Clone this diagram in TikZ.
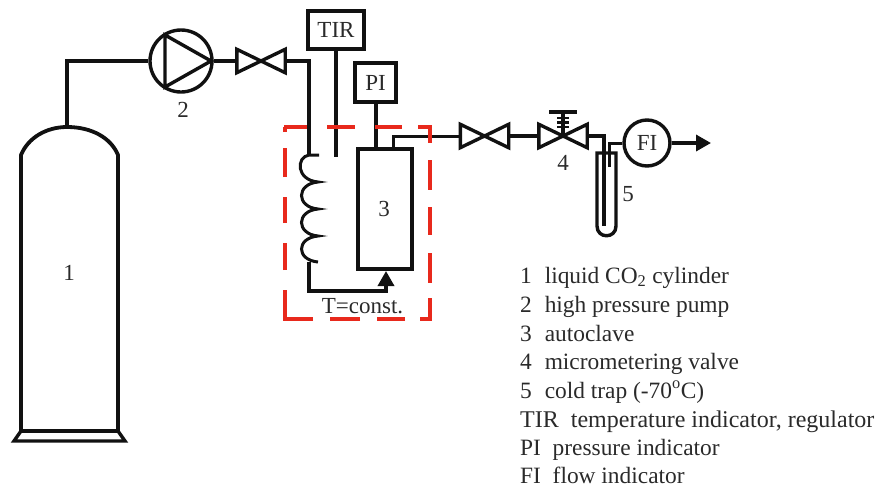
\documentclass[tikz,border=0pt]{standalone}
\usepackage{fontspec}
\setmainfont{Liberation Serif}
\usetikzlibrary{arrows.meta}
\definecolor{ink}{HTML}{111111}
\definecolor{txt}{HTML}{2A2A2A}
\definecolor{dashred}{HTML}{E8291C}
\tikzset{
  pipe/.style={draw=ink,line width=3.4pt,line join=miter},
  thin pipe/.style={draw=ink,line width=3pt},
  instr/.style={draw=ink,line width=3.4pt,fill=white,inner sep=0pt,text=txt,font=\fontsize{23}{23}\selectfont},
  valvenode/.style={minimum width=48pt,minimum height=23pt,inner sep=0pt},
  numlabel/.style={text=txt,font=\fontsize{23}{23}\selectfont,inner sep=0pt},
  legend/.style={anchor=base west,text=txt,font=\fontsize{23.4}{23}\selectfont,inner sep=0pt},
  headtip/.style={-{Triangle[length=15pt,width=16pt,fill=ink]}}
}
\newcommand{\drawvalve}[2]{%
  \node[valvenode] (#1) at (#2) {};
  \draw[pipe] (#1.north west)--(#1.south east)--(#1.north east)--(#1.south west)--cycle;}
\begin{document}
\begin{tikzpicture}[x=1pt,y=-1pt]
\useasboundingbox (0,0) rectangle (878,488);
% cylinder
\coordinate (cyltop) at (67,127);
\coordinate (pipecorner) at (67,61);
\draw[pipe,line width=3.8pt] (21,431) -- (21,155) .. controls (28,138) and (46,127) .. (cyltop)
   .. controls (92,127) and (111,138) .. (118,155) -- (118,431) -- cycle;
\draw[pipe] (21,431) -- (14,441) -- (125,441) -- (118,431);
\node[numlabel] (n1) at (69,273) {1};
% pump
\node[circle,draw=ink,line width=3.4pt,minimum size=62pt,inner sep=0pt] (pump) at (181,61) {};
\draw[pipe] (165,35) -- (165,87) -- (211,61) -- cycle;
\node[numlabel] (n2) at (183,110) {2};
\draw[pipe] (cyltop) -- (pipecorner) -- (pump.west);
% valve 1
\drawvalve{v1}{261,61}
\draw[pipe] (pump.east) -- (v1.west);
% coil
\coordinate (coiltop) at (309,155);
\coordinate (coilbot) at (309,262);
\draw[pipe] (v1.east) -- (309,61) -- (coiltop);
\draw[pipe,line width=3pt] (319,155) -- (309,155) .. controls (296,157) and (296,180) .. (318,182)
  .. controls (296,184) and (296,207) .. (318,209)
  .. controls (296,211) and (296,234) .. (318,236)
  .. controls (296,238) and (296,260) .. (318,262);
% autoclave
\node[draw=ink,line width=3.4pt,minimum width=54pt,minimum height=120pt,inner sep=0pt] (auto) at (385,209) {};
\node[numlabel] (n3) at (384,209) {3};
\draw[pipe] (coilbot) -- (309,291) -- (386,291);
\draw[pipe,headtip] (386,292.5) -- (386,271);
% TIR, PI
\node[instr,minimum width=56pt,minimum height=38pt] (tir) at (336,30) {TIR};
\node[instr,minimum width=41pt,minimum height=39pt] (pi) at (375.5,82.5) {PI};
\coordinate (tirend) at (336,157);
\draw[pipe] (tir.south) -- (tirend);
\draw[pipe,line width=4pt] (pi.south) -- (375.5,148);
% outlet
\drawvalve{v2}{484.5,136}
\drawvalve{v3}{563,136}
\draw[thin pipe] (393,148) -- (393,136) -- (v2.west);
\draw[pipe] (v2.east) -- (v3.west);
% micrometer stem
\draw[pipe] (v3.center) -- (563,112);
\draw[draw=ink,line width=4.2pt] (549,112) -- (577,112);
\draw[draw=ink,line width=2.6pt] (557,118) -- (569,118) (557,122.5) -- (569,122.5) (557,127) -- (569,127);
\node[numlabel] (n4) at (563,163) {4};
% cold trap
\draw[pipe] (597,153) -- (597,226) .. controls (597,239) and (616,239) .. (616,226) -- (616,153) -- cycle;
\draw[pipe] (v3.east) -- (604,136) -- (604,226);
\node[numlabel] (n5) at (628,194) {5};
% FI
\node[instr,circle,minimum size=46pt] (fi) at (647,143) {FI};
\draw[thin pipe] (609.5,167) -- (609.5,143) -- (fi.west);
\coordinate (outlet) at (711,143);
\draw[pipe,headtip] (fi.east) -- (outlet);
% thermostat
\draw[dashred,line width=3.6pt]
  (284,127) -- (307,127) (327,127) -- (355,127) (375,127) -- (402,127) (418,127) -- (430,127) -- (430,143)
  (430,160) -- (430,190) (430,207) -- (430,235) (430,253) -- (430,283) (430,298) -- (430,319) -- (420,319)
  (405,319) -- (377,319) (360,319) -- (330,319) (313,319) -- (285,319) -- (285,290)
  (285,270) -- (285,243) (285,223) -- (285,197) (285,177) -- (285,148) (285,132) -- (285,127);
\node[text=txt,font=\fontsize{23}{23}\selectfont,inner sep=0pt] (tconst) at (362.5,306) {T=const.};
% legend
\node[legend] (l1) at (520,283) {1\hspace{0.55em}liquid CO\textsubscript{2} cylinder};
\node[legend] (l2) at (520,312) {2\hspace{0.55em}high pressure pump};
\node[legend] (l3) at (520,341) {3\hspace{0.55em}autoclave};
\node[legend] (l4) at (520,369) {4\hspace{0.55em}micrometering valve};
\node[legend] (l5) at (520,398) {5\hspace{0.55em}cold trap (-70\textsuperscript{o}C)};
\node[legend,font=\fontsize{24}{24}\selectfont] (l6) at (520,427) {TIR\hspace{0.5em}temperature indicator, regulator};
\node[legend] (l7) at (520,455) {PI\hspace{0.5em}pressure indicator};
\node[legend] (l8) at (520,483) {FI\hspace{0.5em}flow indicator};
\end{tikzpicture}
\end{document}
